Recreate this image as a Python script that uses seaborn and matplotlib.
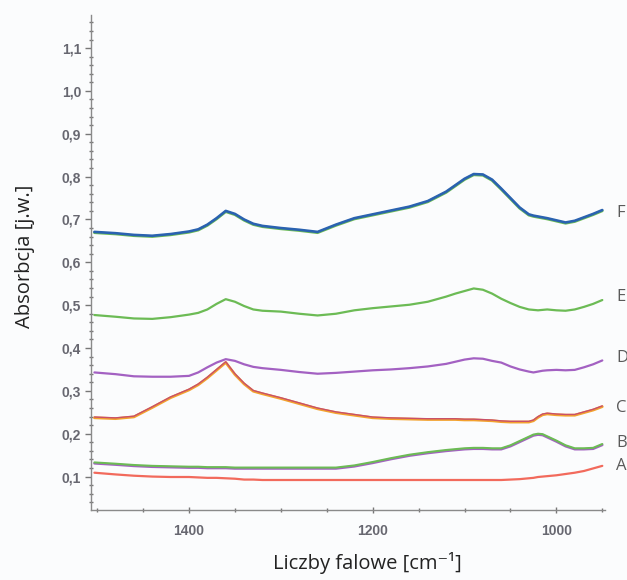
import matplotlib
matplotlib.use("Agg")
import matplotlib.pyplot as plt
import seaborn as sns
import pandas as pd
import numpy as np
from matplotlib.ticker import FixedLocator, MultipleLocator, FixedFormatter

# ---------------- data ----------------
wavenumber = [1503, 1480, 1460, 1440, 1420, 1400, 1390, 1380, 1370, 1360,
              1350, 1340, 1330, 1320, 1300, 1280, 1260, 1240, 1220, 1200,
              1180, 1160, 1140, 1120, 1110, 1100, 1090, 1080, 1070, 1060,
              1050, 1040, 1030, 1025, 1020, 1015, 1010, 1000, 990, 980,
              970, 960, 950]

series_F = [0.671, 0.668, 0.664, 0.662, 0.666, 0.672, 0.677, 0.688, 0.703, 0.720,
            0.713, 0.700, 0.690, 0.685, 0.680, 0.676, 0.671, 0.688, 0.703, 0.712,
            0.721, 0.730, 0.743, 0.765, 0.780, 0.795, 0.806, 0.805, 0.793, 0.772,
            0.750, 0.728, 0.712, 0.709, 0.707, 0.705, 0.703, 0.698, 0.693, 0.697,
            0.705, 0.713, 0.722]

series_E = [0.477, 0.473, 0.469, 0.468, 0.472, 0.478, 0.482, 0.490, 0.503, 0.514,
            0.508, 0.498, 0.490, 0.487, 0.485, 0.480, 0.476, 0.480, 0.488, 0.493,
            0.497, 0.501, 0.508, 0.520, 0.527, 0.533, 0.539, 0.536, 0.527, 0.515,
            0.505, 0.496, 0.490, 0.489, 0.488, 0.489, 0.490, 0.488, 0.487, 0.490,
            0.496, 0.503, 0.512]

series_D = [0.343, 0.339, 0.334, 0.333, 0.333, 0.335, 0.343, 0.355, 0.366, 0.374,
            0.370, 0.362, 0.356, 0.353, 0.349, 0.344, 0.340, 0.342, 0.345, 0.348,
            0.350, 0.353, 0.357, 0.363, 0.368, 0.373, 0.376, 0.375, 0.370, 0.366,
            0.357, 0.350, 0.345, 0.343, 0.345, 0.347, 0.348, 0.349, 0.348, 0.349,
            0.355, 0.362, 0.371]

series_C = [0.239, 0.237, 0.241, 0.263, 0.286, 0.304, 0.316, 0.332, 0.350, 0.368,
            0.340, 0.318, 0.301, 0.295, 0.284, 0.272, 0.260, 0.251, 0.245, 0.239,
            0.237, 0.236, 0.235, 0.235, 0.235, 0.234, 0.234, 0.233, 0.232, 0.230,
            0.229, 0.229, 0.229, 0.232, 0.240, 0.246, 0.248, 0.246, 0.245, 0.245,
            0.251, 0.257, 0.265]

series_B = [0.133, 0.130, 0.127, 0.125, 0.124, 0.123, 0.123, 0.122, 0.122, 0.122,
            0.121, 0.121, 0.121, 0.121, 0.121, 0.121, 0.121, 0.121, 0.126, 0.134,
            0.143, 0.151, 0.157, 0.162, 0.164, 0.166, 0.167, 0.167, 0.166, 0.166,
            0.173, 0.183, 0.193, 0.198, 0.200, 0.199, 0.194, 0.184, 0.173, 0.166,
            0.166, 0.167, 0.176]

series_A = [0.109, 0.105, 0.102, 0.100, 0.099, 0.099, 0.098, 0.097, 0.097, 0.096,
            0.095, 0.093, 0.093, 0.092, 0.092, 0.092, 0.092, 0.092, 0.092, 0.092,
            0.092, 0.092, 0.092, 0.092, 0.092, 0.092, 0.092, 0.092, 0.092, 0.092,
            0.093, 0.094, 0.096, 0.097, 0.099, 0.100, 0.101, 0.103, 0.106, 0.109,
            0.113, 0.119, 0.125]

curve_names = ["F", "E", "D", "C", "B", "A"]
label_y = [0.716, 0.518, 0.377, 0.259, 0.178, 0.124]

y_ticks = [0.1, 0.2, 0.3, 0.4, 0.5, 0.6, 0.7, 0.8, 0.9, 1.0, 1.1]
y_tick_labels = ["0,1", "0,2", "0,3", "0,4", "0,5", "0,6", "0,7", "0,8", "0,9", "1,0", "1,1"]
x_ticks = [1400, 1200, 1000]
x_tick_labels = ["1400", "1200", "1000"]

# ---------------- figure ----------------
sns.set_style("white")
plt.rcParams["font.family"] = ["Open Sans", "DejaVu Sans"]

bg = "#fbfcfd"
fig = plt.figure(figsize=(6.27, 5.80), dpi=100, facecolor=bg)
ax = fig.add_axes([0.1447, 0.1207, 0.965 - 0.1447, 0.974 - 0.1207])
ax.set_facecolor(bg)

df = pd.DataFrame({"wn": wavenumber, "F": series_F, "E": series_E, "D": series_D,
                   "C": series_C, "B": series_B, "A": series_A})

blue = "#2a62b0"
green = "#6cbb55"
purple = "#a361c2"
orange = "#f3a22e"
red = "#f26a5c"
redp = "#c8506a"

# shadow (under) lines
df["F_under"] = df["F"] - 0.0018
df["B_under"] = df["B"] - 0.0022
df["C_under"] = df["C"] - 0.0018

kw = dict(estimator=None, sort=False, ax=ax, legend=False)
sns.lineplot(data=df, x="wn", y="F_under", color=green, lw=2.0, **kw)
sns.lineplot(data=df, x="wn", y="F", color=blue, lw=1.9, **kw)
sns.lineplot(data=df, x="wn", y="E", color=green, lw=1.6, **kw)
sns.lineplot(data=df, x="wn", y="D", color=purple, lw=1.6, **kw)
sns.lineplot(data=df, x="wn", y="C_under", color=orange, lw=2.0, **kw)
sns.lineplot(data=df, x="wn", y="C", color=redp, lw=1.0, **kw)
sns.lineplot(data=df, x="wn", y="B_under", color=purple, lw=1.8, **kw)
sns.lineplot(data=df, x="wn", y="B", color=green, lw=1.5, **kw)
sns.lineplot(data=df, x="wn", y="A", color=red, lw=1.6, **kw)

ax.set_xlim(1507, 947)
ax.set_ylim(0.022, 1.177)

for name, yv in zip(curve_names, label_y):
    ax.text(935, yv, name, ha="left", va="center", fontsize=12,
            color="#5a5a5a", clip_on=False, family=["Open Sans", "DejaVu Sans"])

# axes styling
for s in ["top", "right"]:
    ax.spines[s].set_visible(False)
for s in ["left", "bottom"]:
    ax.spines[s].set_color("#8a8a8a")
    ax.spines[s].set_linewidth(1.0)

ax.yaxis.set_major_locator(FixedLocator(y_ticks))
ax.yaxis.set_major_formatter(FixedFormatter(y_tick_labels))
ax.yaxis.set_minor_locator(MultipleLocator(0.02))
ax.xaxis.set_major_locator(FixedLocator(x_ticks))
ax.xaxis.set_major_formatter(FixedFormatter(x_tick_labels))
ax.xaxis.set_minor_locator(MultipleLocator(50))

ax.tick_params(axis="y", which="major", direction="out", length=4, width=1,
               color="#777777", labelsize=10, labelcolor="#676770", pad=3, left=True)
ax.tick_params(axis="y", which="minor", direction="inout", length=2.5, width=1,
               color="#777777", left=True)
ax.tick_params(axis="x", which="major", direction="inout", length=4, width=1,
               color="#777777", labelsize=10, labelcolor="#676770", pad=8, bottom=True)
ax.tick_params(axis="x", which="minor", direction="inout", length=3, width=1,
               color="#777777", bottom=True)
for lab in ax.get_xticklabels() + ax.get_yticklabels():
    lab.set_fontweight("bold")
    lab.set_family(["Liberation Sans", "DejaVu Sans"])

ax.set_xlabel("Liczby falowe [cm⁻¹]", fontsize=14.5, color="#222222")
ax.set_ylabel("Absorbcja [j.w.]", fontsize=14.5, color="#222222")
ax.xaxis.set_label_coords((367 - 90.7) / 514, -(552 - 510) / 495)
ax.yaxis.set_label_coords(-(90.7 - 35) / 514, (510 - 256) / 495)

fig.savefig("out.png", dpi=100, facecolor=bg)
